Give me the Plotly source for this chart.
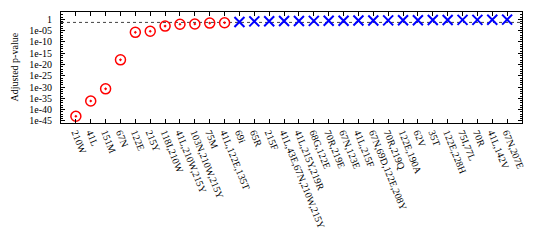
import plotly.graph_objects as go

sig_labels = ["210W", "41L", "151M", "67N", "122E", "215Y", "118I,210W",
              "41L,210W,215Y", "103N,210W,215Y", "75M", "41L,122E,135T"]
sig_pvals = [1e-43, 6e-37, 1.5e-31, 1.2e-18, 2e-6, 6e-6, 1.2e-3, 8e-3, 1e-2, 2.5e-2, 3.5e-2]

ns_labels = ["69i", "65R", "215F", "41L,43E,67N,210W,215Y", "41L,215Y,219R", "68G,122E",
             "70R,219E", "67N,123E", "41L,215F", "67N,69D,122E,208Y", "70R,219Q",
             "122E,190A", "62V", "35T", "122E,228H", "75I,77L", "70R", "41L,142V", "67N,207E"]
ns_pvals = [0.08, 0.15, 0.18, 0.2, 0.22, 0.25, 0.28, 0.3, 0.33, 0.36, 0.4, 0.45,
            0.5, 0.55, 0.6, 0.65, 0.7, 0.8, 0.9]

threshold = 0.05
ytick_exps = [0, -5, -10, -15, -20, -25, -30, -35, -40, -45]

all_labels = sig_labels + ns_labels
FONT = "Liberation Serif"

fig = go.Figure()
fig.add_shape(type="line", xref="paper", x0=0, x1=1, yref="y", y0=threshold, y1=threshold,
              line=dict(color="#444444", width=1, dash="dot"), layer="below")
fig.add_trace(go.Scatter(
    x=sig_labels, y=sig_pvals, mode="markers",
    marker=dict(symbol="circle-open-dot", size=10, color="red",
                line=dict(color="red", width=1.5))))
fig.add_trace(go.Scatter(
    x=ns_labels, y=ns_pvals, mode="markers",
    marker=dict(symbol="x-thin-open", size=10, color="blue",
                line=dict(color="blue", width=2))))

fig.update_layout(
    width=532, height=244,
    margin=dict(l=53, r=18, t=4, b=129),
    paper_bgcolor="white", plot_bgcolor="white",
    showlegend=False,
    font=dict(family=FONT, size=10, color="black"),
    xaxis=dict(
        type="category", categoryorder="array", categoryarray=all_labels,
        range=[-1, len(all_labels)], automargin=False,
        showgrid=False, zeroline=False,
        showline=True, linecolor="black", linewidth=1, mirror="ticks",
        ticks="inside", ticklen=4, tickcolor="black", tickwidth=1,
        tickangle=68, ticklabelstandoff=-1,
        tickfont=dict(family=FONT, size=10, color="black"),
    ),
    yaxis=dict(
        type="log", range=[-46, 3.33], automargin=False,
        tickvals=[10.0 ** e for e in ytick_exps],
        ticktext=["1" if e == 0 else "1e-%02d" % (-e) for e in ytick_exps],
        showgrid=False, zeroline=False,
        showline=True, linecolor="black", linewidth=1, mirror="ticks",
        ticks="inside", ticklen=4, tickcolor="black", tickwidth=1,
        ticklabelstandoff=6,
        tickfont=dict(family=FONT, size=10, color="black"),
        minor=dict(tickvals=[10.0 ** (-k) for k in range(-3, 47)],
                   ticks="inside", ticklen=2, tickcolor="black", tickwidth=1,
                   showgrid=False),
    ),
    annotations=[dict(text="Adjusted p-value", xref="paper", yref="paper",
                      x=-47 / 461, y=0.5, xanchor="center", yanchor="middle",
                      textangle=-90, showarrow=False,
                      font=dict(family=FONT, size=10, color="black"))],
)
fig.write_html("out.html")
